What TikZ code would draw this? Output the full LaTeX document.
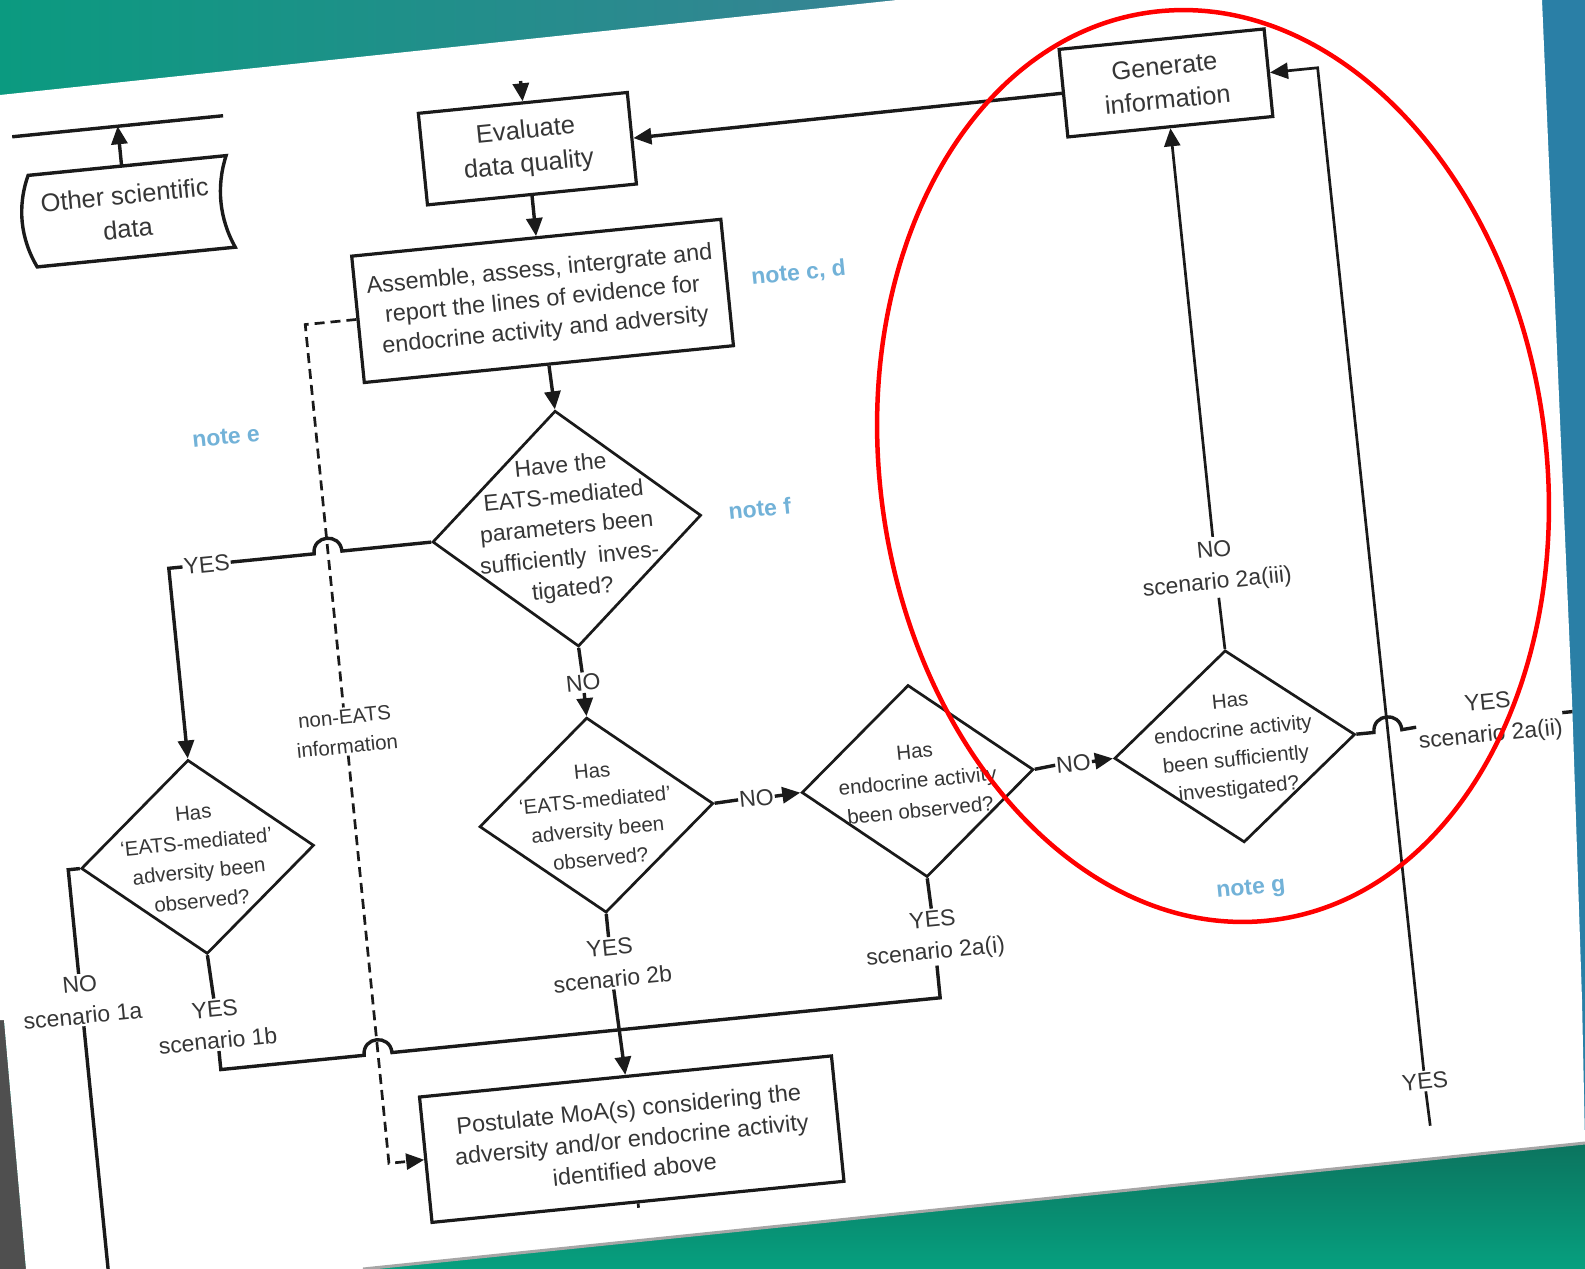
\documentclass[tikz,border=0pt]{standalone}
\usepackage{fontspec}
\setmainfont{Liberation Sans}
\usetikzlibrary{shapes.geometric,arrows.meta}
\definecolor{lc}{HTML}{1A1A1A}
\definecolor{tc}{HTML}{363636}
\definecolor{notec}{HTML}{72B2D8}
\definecolor{tealA}{HTML}{0B9A80}
\definecolor{tealB}{HTML}{3A8296}
\definecolor{blueR}{HTML}{2A7FA6}
\definecolor{grnD}{HTML}{0C6F5B}
\definecolor{grnL}{HTML}{06A07F}
\definecolor{grayL}{HTML}{4F4F4F}
\newcommand\fszA{\fontsize{25.5pt}{34pt}\selectfont}
\newcommand\fszB{\fontsize{23.5pt}{30.5pt}\selectfont}
\newcommand\fszC{\fontsize{23pt}{31pt}\selectfont}
\newcommand\fszD{\fontsize{20.5pt}{29.5pt}\selectfont}
\newcommand\fszL{\fontsize{23pt}{32pt}\selectfont}
\newcommand\fszN{\fontsize{23pt}{28pt}\selectfont\bfseries}
\begin{document}
\begin{tikzpicture}[x=1pt,y=-1pt,
  ln/.style={draw=lc, line width=3.4pt},
  lnB/.style={draw=lc, line width=2.7pt},
  arr/.style={-{Triangle[length=18pt,width=16pt]}},
  dsh/.style={draw=lc, line width=2.7pt, dash pattern=on 10pt off 6pt},
  box/.style={draw=lc, line width=3.2pt, align=center, text=tc, inner sep=0pt},
  dia/.style={diamond, draw=lc, line width=2.7pt, inner sep=0pt},
  dtxtA/.style={font=\fszC, text=tc, align=center, inner sep=0pt},
  dtxtB/.style={font=\fszD, text=tc, align=center, inner sep=0pt},
  lbl/.style={font=\fszL, text=tc, align=center, inner sep=2pt},
  notetxt/.style={font=\fszN, text=notec}
]
\useasboundingbox (0,0) rectangle (1585,1269);
% ---- photo background ----
\fill[tealA] (0,0) rectangle (1585,1269);
\shade[left color=tealA, right color=tealB] (0,0) rectangle (950,110);
\fill[blueR] (1450,0) rectangle (1585,1269);
\shade[top color=grnD, bottom color=grnL] (0,1130) rectangle (1585,1269);
\fill[grayL] (0,1020) -- (4,1020) -- (26,1269) -- (0,1269) -- cycle;
% ---- page ----
\fill[white] (0,95) -- (897,0) -- (1542,0) -- (1572,700) -- (1582,1000) -- (1585,1143) -- (363,1269) -- (26,1269) -- (4,1020) -- (0,1020) -- cycle;
\draw[line width=3pt, color=black!35] (363,1269) -- (1585,1143);
\begin{scope}
\clip (0,95) -- (897,0) -- (1542,0) -- (1572,700) -- (1582,1000) -- (1585,1143) -- (363,1269) -- (26,1269) -- (4,1020) -- (0,1020) -- cycle;
\begin{scope}[rotate around={5.7:(800,640)}, transform shape]
% ---- boxes ----
\node[box, font=\fszA, minimum width=210, minimum height=92] (eva) at (577.5,124) {Evaluate\\data quality};
\node[box, font=\fszA, minimum width=206, minimum height=88] (gen) at (1219.5,122) {Generate\\information};
\node[box, font=\fszB, minimum width=371, minimum height=127] (asm) at (577.5,277) {Assemble, assess, intergrate and\\report the lines of evidence for\\endocrine activity and adversity};
\node[box, font=\fszB, minimum width=414, minimum height=126] (post) at (583,1120) {Postulate MoA(s) considering the\\adversity and/or endocrine activity\\identified above};
% other scientific data (stored data symbol)
\draw[ln] (78,101) .. controls (64,131) and (64,163) .. (78,193) -- (277,193) .. controls (264,163) and (264,131) .. (277,101) -- cycle;
\node[font=\fszA, text=tc, align=center, minimum width=200, minimum height=92, inner sep=0pt] (oth) at (172,147) {Other scientific\\data};
\coordinate (ruleA) at (66,61);
\coordinate (ruleB) at (278,61);
\coordinate (ruleT) at (172,61);
\draw[ln] (ruleA) -- (ruleB);
\draw[ln,arr] (oth.north) -- (ruleT);
% ---- diamonds ----
\node[dia, minimum width=270, minimum height=237, label={[dtxtA]center:Have the\\EATS-mediated\\parameters been\\sufficiently\enspace inves-\\tigated?}] (d1) at (579,506) {};
\node[dia, minimum width=235, minimum height=196, label={[dtxtB]center:Has\\`EATS-mediated'\\adversity been\\observed?}] (d2) at (580,794) {};
\node[dia, minimum width=233, minimum height=193, label={[dtxtB]center:Has\\endocrine activity\\been observed?}] (d3) at (903,792) {};
\node[dia, minimum width=242, minimum height=193, label={[dtxtB]center:Has\\endocrine activity\\been sufficiently\\investigated?}] (d4) at (1222,789) {};
\node[dia, minimum width=234, minimum height=195, label={[dtxtB]center:Has\\`EATS-mediated'\\adversity been\\observed?}] (d5) at (179,796) {};
% ---- labels ----
\node[lbl] (no1) at (580,661) {NO};
\node[lbl, inner sep=1pt] (no2) at (741,793) {NO};
\node[lbl, inner sep=1pt] (no3) at (1060,790) {NO};
\node[lbl, inner sep=4pt] (n2aiii) at (1221,609) {NO\\scenario 2a(iii)};
\node[lbl, inner sep=1pt] (y2aii) at (1478,788) {YES\\scenario 2a(ii)};
\node[lbl] (yesR) at (1378,1141) {YES};
\node[lbl, inner sep=1pt] (yesL) at (217,506) {YES};
\node[lbl] (n1a) at (49,927) {NO\\scenario 1a};
\node[lbl] (y1b) at (181,965) {YES\\scenario 1b};
\node[lbl] (y2b) at (580,943) {YES\\scenario 2b};
\node[lbl] (y2ai) at (904,949) {YES\\scenario 2a(i)};
\node[lbl, font=\fszD] (nonE) at (339,686) {non-EATS\\information};
% ---- notes ----
\node[notetxt] (ncd) at (835,275) {note c, d};
\node[notetxt] (ne) at (249,381) {note e};
\node[notetxt] (nf) at (773,505) {note f};
\node[notetxt] (ng) at (1224,933) {note g};
% ---- connectors ----
\coordinate (eTop) at (577.5,56);
\draw[ln,arr] (eTop) -- (eva.north);
\draw[ln,arr] (gen.west) -- (eva.east);
\draw[ln,arr] (eva.south) -- (asm.north);
\draw[ln,arr] (asm.south) -- (d1.north);
\draw[ln] (d1.south) -- (no1.north);
\draw[ln,arr] (no1.south) -- (d2.north);
\draw[ln] (d2.east) -- (no2.west);
\draw[ln,arr] (no2.east) -- (d3.west);
\draw[ln] (d3.east) -- (no3.west);
\draw[ln,arr] (no3.east) -- (d4.west);
\draw[lnB] (d4.north) -- (n2aiii.south);
\draw[lnB,arr] (n2aiii.north) -- (gen.south);
% right YES branch with jump
\coordinate (rEnd) at (1600,788);
\draw[ln] (d4.east) -- (1362,789) .. controls (1362,770) and (1390,770) .. (1390,789) -- (y2aii.west);
\draw[ln] (y2aii.east) -- (rEnd);
% long right line
\coordinate (rTop) at (1372,122);
\coordinate (rBot) at (1379,1186);
\draw[lnB,arr] (yesR.north) -- (rTop) -- (gen.east);
\draw[lnB] (yesR.south) -- (rBot);
% left YES branch with jump
\coordinate (cL) at (179,506);
\draw[ln] (d1.west) -- (353,506) .. controls (353,487) and (325,487) .. (325,506) -- (yesL.east);
\draw[ln,arr] (yesL.west) -- (cL) -- (d5.north);
% scenario 1a
\coordinate (c1a) at (49,796);
\coordinate (b1a) at (49,1260);
\draw[ln] (d5.west) -- (c1a) -- (n1a.north);
\draw[ln] (n1a.south) -- (b1a);
% scenario 1b / 2a(i) / 2b
\coordinate (c1b) at (181,1010);
\coordinate (c2ai) at (904,1010);
\draw[ln] (d5.south) -- (y1b.north);
\draw[ln] (d3.south) -- (y2ai.north);
\draw[ln] (y1b.south) -- (c1b) -- (325,1010) .. controls (325,991) and (353,991) .. (353,1010) -- (c2ai) -- (y2ai.south);
\draw[ln] (d2.south) -- (y2b.north);
\draw[ln,arr] (y2b.south) -- (post.north);
\coordinate (pTick) at (583,1189);
\draw[lnB] (post.south) -- (pTick);
% dashed non-EATS path
\coordinate (dA) at (339,277);
\coordinate (dB) at (339,1120);
\draw[dsh] (asm.west) -- (dA) -- (nonE.north);
\draw[dsh,arr] (nonE.south) -- (dB) -- (post.west);
\end{scope}
\end{scope}
% ---- red highlight ellipse ----
\draw[red, line width=4.5pt, rotate around={8:(1213,466)}] (1213,466) ellipse [x radius=333, y radius=458];
\end{tikzpicture}
\end{document}
